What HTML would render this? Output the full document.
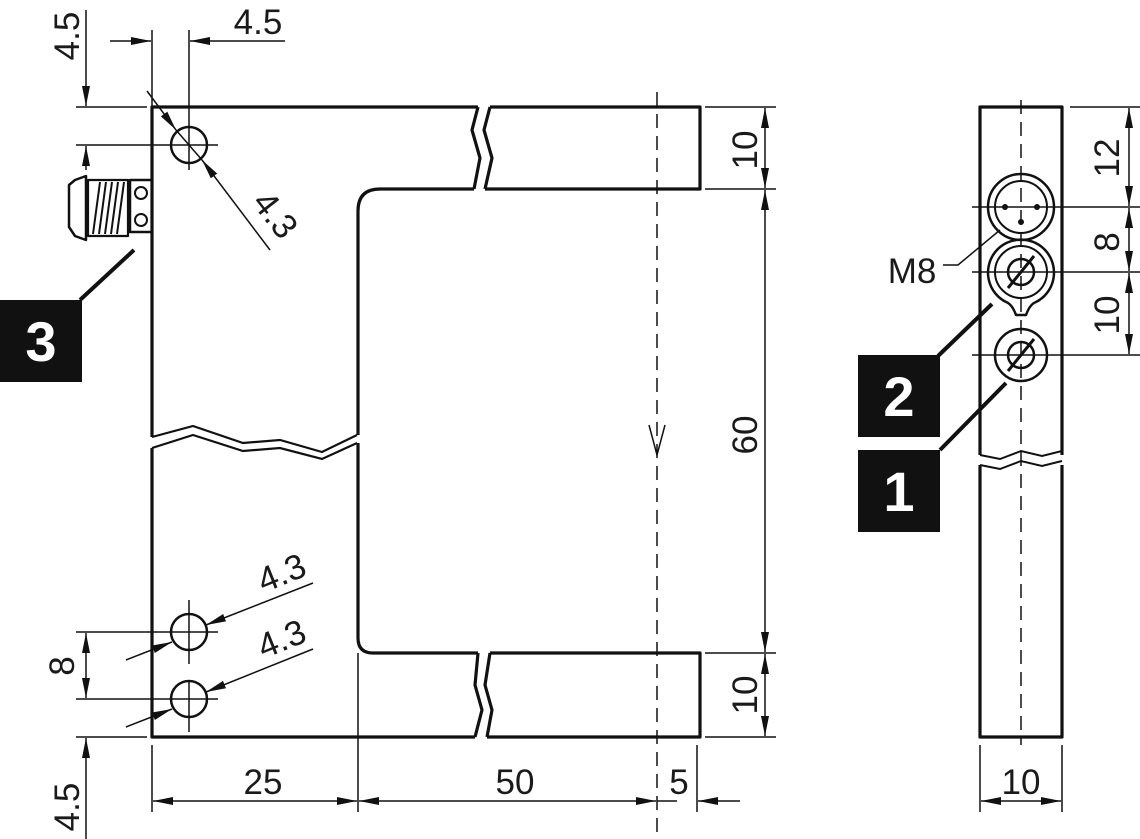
<!DOCTYPE html>
<html><head><style>
html,body{margin:0;padding:0;background:#fff;}
svg{display:block;}
text{font-family:"Liberation Sans","DejaVu Sans",sans-serif;font-size:35px;fill:#1a1a1a;}
.b{fill:none;stroke:#111;stroke-width:3.2;stroke-linejoin:round;}
.t{fill:none;stroke:#111;stroke-width:1.5;}
.c{fill:none;stroke:#111;stroke-width:1.5;stroke-dasharray:14,8;}
.lbl{font-family:"Liberation Sans",sans-serif;font-weight:bold;font-size:56px;fill:#fff;}
</style></head><body>
<svg width="1140" height="839" viewBox="0 0 1140 839">
<defs>
<marker id="a" viewBox="0 0 20 8" refX="20" refY="4" markerWidth="20" markerHeight="8" markerUnits="userSpaceOnUse" orient="auto"><path d="M0,0 L20,4 L0,8 Z" fill="#111"/></marker>
</defs>

<!-- MAIN BODY -->
<path class="b" d="M152,437 L152,107 L478,107 M490,107 L700,107 L700,189 L485,189 M474,189 L380,189 Q358,189 358,211 L358,435"/>
<path class="b" d="M478,107 L472,130 L480,158 L474,189 M490,107 L484,130 L492,158 L485,189"/>
<path class="t" style="stroke-width:2.2" d="M152,437 L193,426 L243,443 L280,440 L322,452 L357,435 M152,448 L193,435 L243,451 L280,448 L322,459 L357,443"/>
<path class="b" d="M152,448 L152,737 L475,737 M487,737 L700,737 L700,653 L490,653 M478,653 L373,653 Q358,653 358,638 L358,443"/>
<path class="b" d="M478,653 L475,685 L482,710 L475,737 M490,653 L485,685 L492,710 L487,737"/>
<line class="t" x1="358" y1="653" x2="358" y2="812"/>

<!-- dashed center -->
<line class="c" x1="657" y1="92" x2="657" y2="839"/>
<path class="t" d="M649,425 L657,455 L665,425"/>

<!-- right dims -->
<line class="t" x1="705" y1="107" x2="776" y2="107"/>
<line class="t" x1="705" y1="189" x2="776" y2="189"/>
<line class="t" x1="705" y1="653" x2="776" y2="653"/>
<line class="t" x1="705" y1="737" x2="776" y2="737"/>
<line class="t" x1="765" y1="148" x2="765" y2="108" marker-end="url(#a)"/>
<line class="t" x1="765" y1="148" x2="765" y2="188" marker-end="url(#a)"/>
<line class="t" x1="765" y1="420" x2="765" y2="190" marker-end="url(#a)"/>
<line class="t" x1="765" y1="420" x2="765" y2="652" marker-end="url(#a)"/>
<line class="t" x1="765" y1="695" x2="765" y2="654" marker-end="url(#a)"/>
<line class="t" x1="765" y1="695" x2="765" y2="736" marker-end="url(#a)"/>
<text transform="translate(757,150) rotate(-90)" text-anchor="middle">10</text>
<text transform="translate(757,435) rotate(-90)" text-anchor="middle">60</text>
<text transform="translate(757,695) rotate(-90)" text-anchor="middle">10</text>

<!-- bottom dims -->
<line class="t" x1="152" y1="745" x2="152" y2="812"/>
<line class="t" x1="697" y1="745" x2="697" y2="812"/>
<line class="t" x1="255" y1="801" x2="153" y2="801" marker-end="url(#a)"/>
<line class="t" x1="255" y1="801" x2="357" y2="801" marker-end="url(#a)"/>
<line class="t" x1="500" y1="801" x2="359" y2="801" marker-end="url(#a)"/>
<line class="t" x1="500" y1="801" x2="656" y2="801" marker-end="url(#a)"/>
<line class="t" x1="740" y1="801" x2="698" y2="801" marker-end="url(#a)"/>
<line class="t" x1="657" y1="801" x2="677" y2="801"/>
<text x="263" y="794" text-anchor="middle">25</text>
<text x="515" y="794" text-anchor="middle">50</text>
<text x="679" y="794" text-anchor="middle">5</text>

<!-- top-left dims -->
<line class="t" x1="152" y1="30" x2="152" y2="107"/>
<line class="t" x1="189" y1="30" x2="189" y2="170"/>
<line class="t" x1="110" y1="41" x2="151" y2="41" marker-end="url(#a)"/>
<line class="t" x1="285" y1="41" x2="190" y2="41" marker-end="url(#a)"/>
<text x="258" y="34" text-anchor="middle">4.5</text>
<line class="t" x1="86" y1="10" x2="86" y2="106" marker-end="url(#a)"/>
<line class="t" x1="86" y1="170" x2="86" y2="146" marker-end="url(#a)"/>
<line class="t" x1="76" y1="107" x2="147" y2="107"/>
<line class="t" x1="76" y1="145" x2="218" y2="145"/>
<text transform="translate(79,36) rotate(-90)" text-anchor="middle">4.5</text>
<circle cx="189" cy="145" r="18" class="b" style="stroke-width:2.5"/>
<line class="t" x1="147" y1="91" x2="176" y2="130" marker-end="url(#a)"/>
<line class="t" x1="270" y1="250" x2="202" y2="160" marker-end="url(#a)"/>
<line class="t" x1="176" y1="130" x2="202" y2="160"/>
<text transform="translate(266,222) rotate(52)" text-anchor="middle">4.3</text>

<!-- connector -->
<rect x="130" y="180" width="22" height="52" class="b" style="stroke-width:2.5"/>
<circle cx="141" cy="193" r="6" class="b" style="stroke-width:2"/>
<circle cx="141" cy="220" r="6" class="b" style="stroke-width:2"/>
<path class="b" style="stroke-width:2.2" d="M88,180 L128,180 L128,236 L88,236 Z"/>
<path class="t" style="stroke-width:2" d="M93,234 L100,182 M99,234 L106,182 M105,234 L112,182 M111,234 L118,182 M117,234 L124,182"/>
<path class="b" style="stroke-width:2.5" d="M86,176 L75,180 L69,185 L69,227 L75,236 L86,240 Z"/>
<line class="b" x1="134" y1="250" x2="80" y2="300" style="stroke-width:4"/>
<rect x="0" y="300" width="82" height="82" fill="#111"/>
<text class="lbl" x="41" y="361" text-anchor="middle">3</text>

<!-- bottom holes -->
<circle cx="189" cy="632" r="18" class="b" style="stroke-width:2.5"/>
<circle cx="189" cy="699" r="18" class="b" style="stroke-width:2.5"/>
<line class="t" x1="189" y1="600" x2="189" y2="664"/>
<line class="t" x1="189" y1="680" x2="189" y2="732"/>
<line class="t" x1="76" y1="632" x2="218" y2="632"/>
<line class="t" x1="76" y1="699" x2="218" y2="699"/>
<line class="t" x1="76" y1="737" x2="147" y2="737"/>
<line class="t" x1="86" y1="665" x2="86" y2="633" marker-end="url(#a)"/>
<line class="t" x1="86" y1="665" x2="86" y2="698" marker-end="url(#a)"/>
<line class="t" x1="86" y1="839" x2="86" y2="738" marker-end="url(#a)"/>
<text transform="translate(74,666) rotate(-90)" text-anchor="middle">8</text>
<text transform="translate(79,807) rotate(-90)" text-anchor="middle">4.5</text>
<line class="t" x1="313" y1="583" x2="206" y2="625" marker-end="url(#a)"/>
<line class="t" x1="126" y1="660" x2="172" y2="642" marker-end="url(#a)"/>
<line class="t" x1="313" y1="649" x2="206" y2="692" marker-end="url(#a)"/>
<line class="t" x1="126" y1="727" x2="172" y2="709" marker-end="url(#a)"/>
<text transform="translate(286,584) rotate(-22)" text-anchor="middle">4.3</text>
<text transform="translate(286,650) rotate(-22)" text-anchor="middle">4.3</text>

<!-- SIDE VIEW -->
<path class="b" d="M980,455 L980,107 L1062,107 L1062,455"/>
<path class="b" d="M980,465 L980,737 L1062,737 L1062,465"/>
<path class="t" style="stroke-width:2" d="M980,455 L1000,459 L1021,451 L1042,456 L1062,451 M980,465 L1000,469 L1021,461 L1042,466 L1062,461"/>
<line class="c" x1="1021" y1="100" x2="1021" y2="745"/>
<circle cx="1021" cy="207" r="33" class="b" style="stroke-width:2.5"/>
<circle cx="1021" cy="207" r="26" class="b" style="stroke-width:2"/>
<circle cx="1005" cy="207" r="3" fill="#111"/><circle cx="1037" cy="207" r="3" fill="#111"/><circle cx="1021" cy="222" r="3" fill="#111"/>
<path class="b" style="stroke-width:2.5" d="M1006,302 A33,33 0 1 1 1036,302 Q1030,304 1026,315 L1016,315 Q1012,304 1006,302"/>
<circle cx="1021" cy="272" r="26" class="b" style="stroke-width:2"/>
<circle cx="1021" cy="272" r="13" class="t" style="stroke-width:2.5"/>
<path class="t" style="stroke-width:3" d="M1008,288 L1034,256"/>
<circle cx="1021" cy="355" r="26" class="b" style="stroke-width:2.5"/>
<circle cx="1021" cy="355" r="13" class="t" style="stroke-width:2.5"/>
<path class="t" style="stroke-width:3" d="M1008,371 L1034,339"/>
<line class="t" x1="1070" y1="107" x2="1140" y2="107"/>
<line class="t" x1="972" y1="207" x2="1140" y2="207"/>
<line class="t" x1="972" y1="272" x2="1140" y2="272"/>
<line class="t" x1="972" y1="355" x2="1140" y2="355"/>
<line class="t" x1="1129" y1="157" x2="1129" y2="108" marker-end="url(#a)"/>
<line class="t" x1="1129" y1="157" x2="1129" y2="206" marker-end="url(#a)"/>
<line class="t" x1="1129" y1="240" x2="1129" y2="208" marker-end="url(#a)"/>
<line class="t" x1="1129" y1="240" x2="1129" y2="271" marker-end="url(#a)"/>
<line class="t" x1="1129" y1="313" x2="1129" y2="273" marker-end="url(#a)"/>
<line class="t" x1="1129" y1="313" x2="1129" y2="354" marker-end="url(#a)"/>
<text transform="translate(1119,158) rotate(-90)" text-anchor="middle">12</text>
<text transform="translate(1119,242) rotate(-90)" text-anchor="middle">8</text>
<text transform="translate(1119,315) rotate(-90)" text-anchor="middle">10</text>
<text x="912" y="283" text-anchor="middle">M8</text>
<path class="t" d="M943,265 L958,265 L1000,230"/>
<line class="b" x1="992" y1="304" x2="938" y2="356" style="stroke-width:4"/>
<rect x="858" y="355" width="82" height="82" fill="#111"/>
<text class="lbl" x="899" y="416" text-anchor="middle">2</text>
<line class="b" x1="1006" y1="383" x2="940" y2="450" style="stroke-width:4"/>
<rect x="858" y="450" width="82" height="82" fill="#111"/>
<text class="lbl" x="899" y="511" text-anchor="middle">1</text>
<line class="t" x1="980" y1="745" x2="980" y2="812"/>
<line class="t" x1="1062" y1="745" x2="1062" y2="812"/>
<line class="t" x1="1021" y1="801" x2="981" y2="801" marker-end="url(#a)"/>
<line class="t" x1="1021" y1="801" x2="1061" y2="801" marker-end="url(#a)"/>
<text x="1021" y="794" text-anchor="middle">10</text>
</svg>
</body></html>
